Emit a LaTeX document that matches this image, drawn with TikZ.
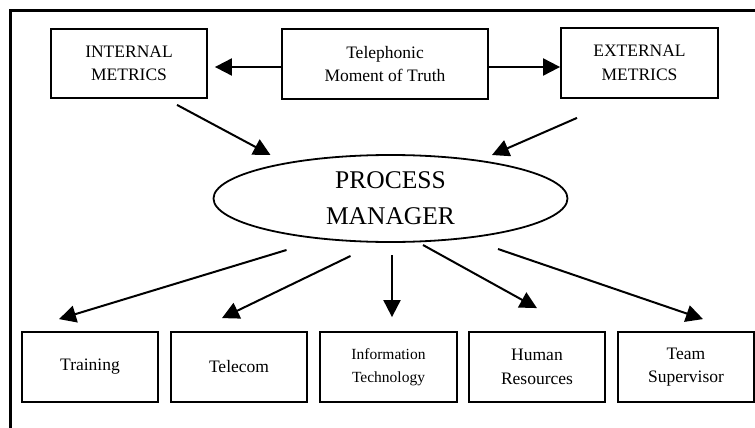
\documentclass[tikz,border=0pt]{standalone}
\usepackage{fontspec}
\setmainfont{Liberation Serif}
\usetikzlibrary{arrows.meta,shapes.geometric,calc}

\tikzset{
  unitbox/.style={draw, line width=1.8pt, inner sep=0pt, align=center,
    minimum width=136pt, minimum height=70pt,
    font=\fontsize{17.5}{23.5}\selectfont},
  smalltext/.style={font=\fontsize{15.5}{23}\selectfont},
  hub/.style={draw, ellipse, line width=1.8pt, inner sep=0pt, align=center,
    minimum width=354pt, minimum height=87pt,
    font=\fontsize{25.5}{36}\selectfont},
  flow/.style={line width=2pt, -{Triangle[length=17pt,width=17pt]}},
  frameline/.style={line width=3pt}
}

\begin{document}
\begin{tikzpicture}[x=1pt,y=-1pt]
  \useasboundingbox (0,0) rectangle (755,428);

  % outer frame (top and left edges)
  \draw[frameline] (10,428) -- (10,11) -- (755,11);

  % top row
  \node[unitbox, minimum width=156pt, minimum height=69pt] (int) at (129,63.5) {INTERNAL\\METRICS};
  \node[unitbox, minimum width=206pt] (tel) at (385,64) {Telephonic\\Moment of Truth};
  \node[unitbox, minimum width=157pt] (ext) at (639.5,63) {EXTERNAL\\METRICS};

  % central hub
  \node[hub] (pm) at (390.5,198.5) {PROCESS\\MANAGER};

  % bottom row
  \node[unitbox] (train) at (90,367) {Training};
  \node[unitbox] (tcom) at (239,367) {Telecom};
  \node[unitbox, minimum width=137pt, smalltext] (it) at (388.5,367) {Information\\Technology};
  \node[unitbox] (hr) at (537,367) {Human\\Resources};
  \node[unitbox] (team) at (686,367) {Team\\Supervisor};

  % top row connectors
  \draw[flow] ($(tel.west)+(0,3)$) -- ($(int.east)+(7,3.5)$);
  \draw[flow] ($(tel.east)+(0,3)$) -- ($(ext.west)+(0,4)$);

  % metrics feeding the hub
  \draw[flow] ($(int.south)+(48,6)$) -- ($(pm.center)+(-120,-43.5)$);
  \draw[flow] ($(ext.south)+(-62.5,19)$) -- ($(pm.center)+(101.5,-43.5)$);

  % hub to departments
  \draw[flow] ($(pm.center)+(-104,51.5)$) -- ($(train.north)+(-31,-12)$);
  \draw[flow] ($(pm.center)+(-40,57.5)$) -- ($(tcom.north)+(-17,-13)$);
  \draw[flow] ($(pm.center)+(1.5,56.5)$) -- ($(it.north)+(3.5,-14)$);
  \draw[flow] ($(pm.center)+(32.5,46.5)$) -- ($(hr.north)+(0,-23)$);
  \draw[flow] ($(pm.center)+(107.5,50.5)$) -- ($(team.north)+(17,-12)$);
\end{tikzpicture}
\end{document}
